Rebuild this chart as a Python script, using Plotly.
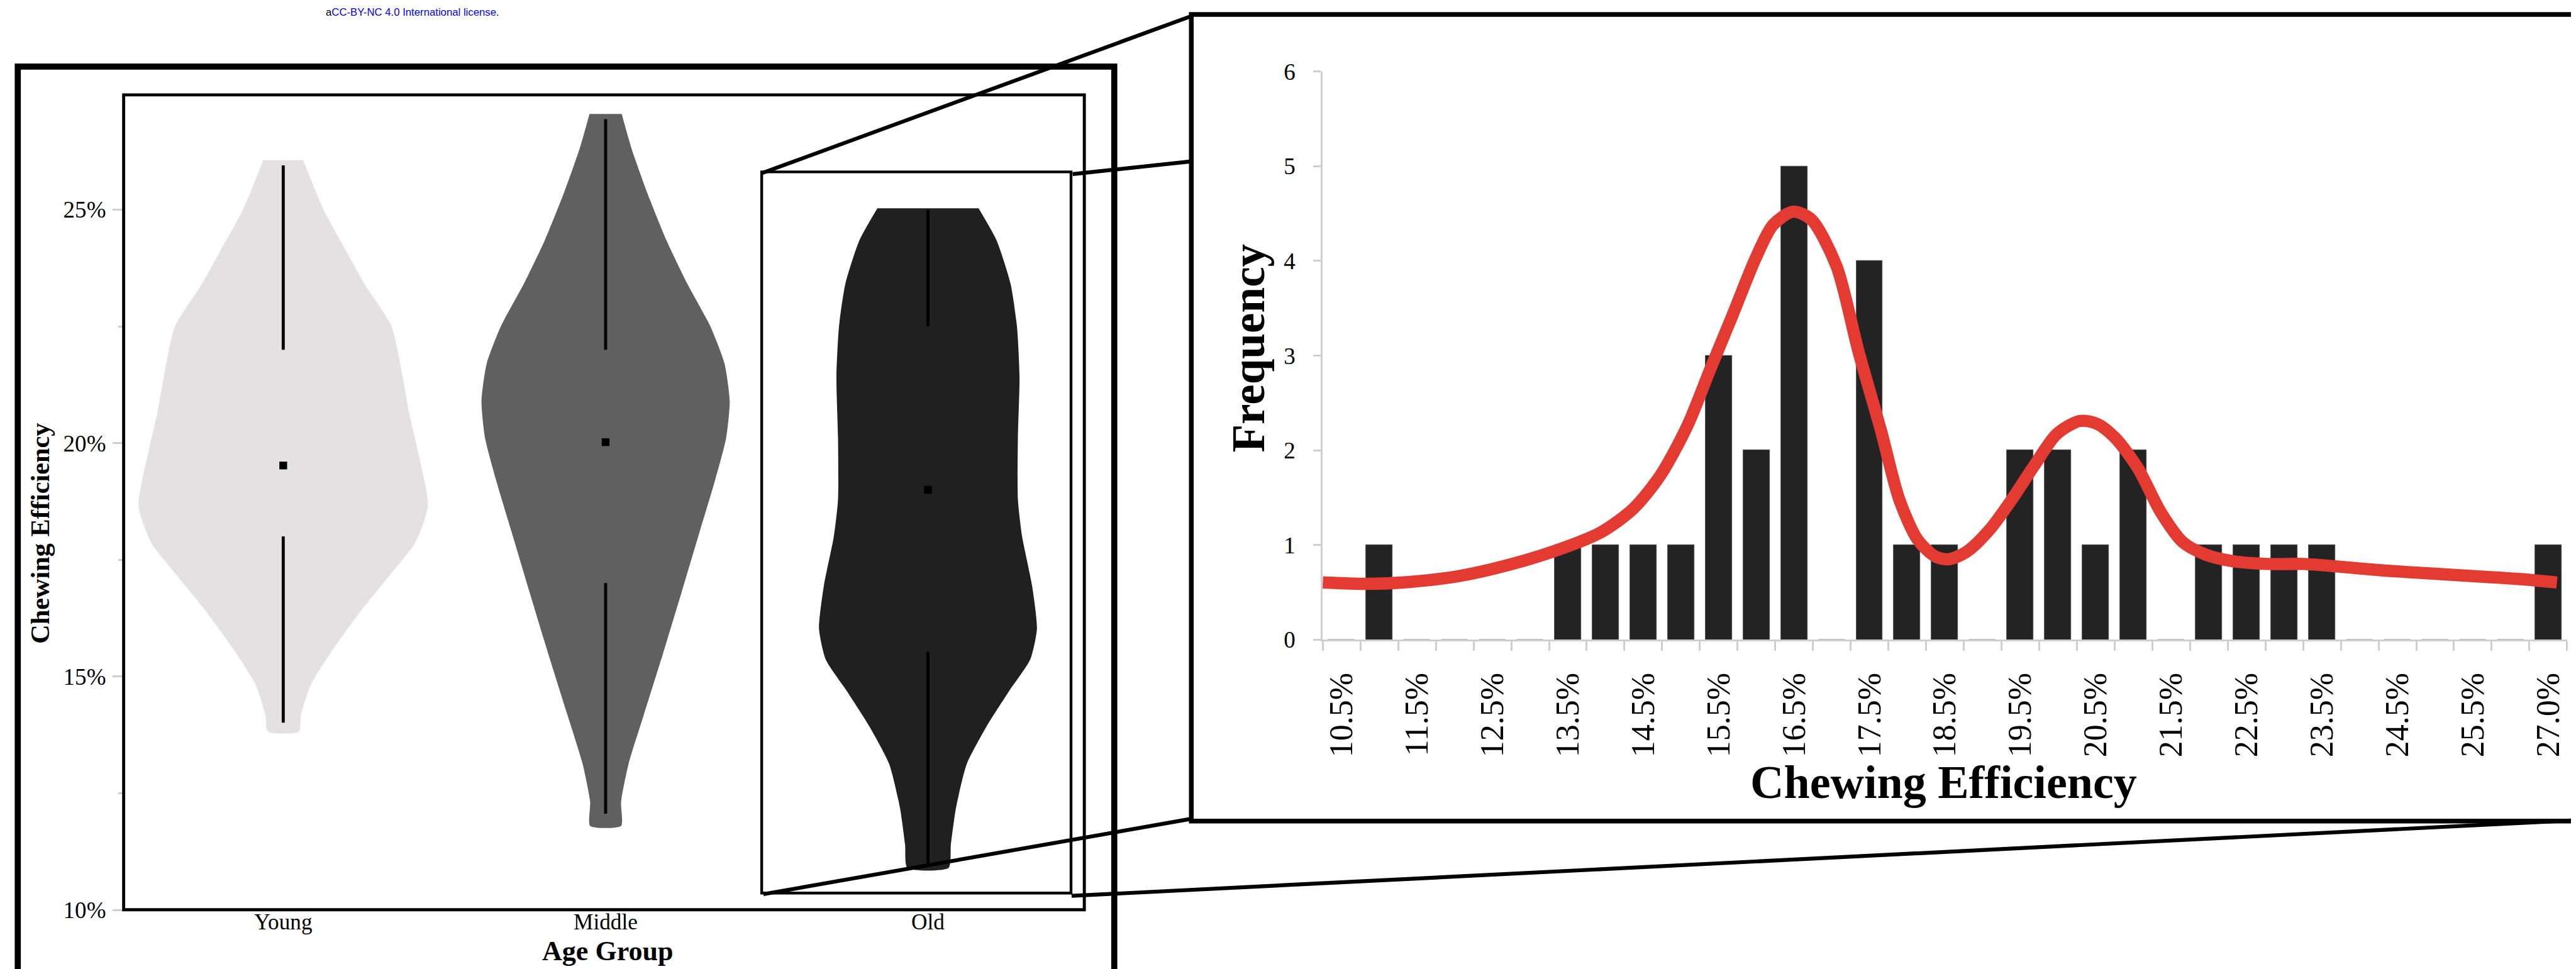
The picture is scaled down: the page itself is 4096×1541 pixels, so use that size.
import plotly.graph_objects as go

# ---------------- reference frame helpers (reference is 4647 x 1748) ----------------
REF_W, REF_H = 4647, 1748
OUT_W, OUT_H = 4096, 1541
S = OUT_W / REF_W


def fx(x):
    return x / REF_W


def fy(y):
    return 1 - y / REF_H


def fs(v):
    return v * S


SERIF = "Liberation Serif"

# ---------------- data: violin panel ----------------
GROUPS = ["Young", "Middle", "Old"]
GROUP_POS = [0, 1, 2]
GROUP_FILL = ["#E3E1E1", "#606060", "#202020"]

# violin outline: chewing efficiency (%) and half width (category units)
YOUNG_Y = [26.06, 25.0, 24.08, 23.4, 22.5, 21.4, 20.6, 19.85, 18.66, 17.87, 17.2, 16.4, 15.6, 14.83, 14.17, 13.82]
YOUNG_HW = [0.062, 0.125, 0.198, 0.253, 0.336, 0.371, 0.392, 0.417, 0.449, 0.41, 0.334, 0.24, 0.156, 0.086, 0.055, 0.048]

MIDDLE_Y = [27.05, 26.32, 25.4, 24.34, 23.42, 22.5, 21.7, 20.9, 20.11, 19.19, 18.13, 16.81, 15.49, 14.17, 13.12, 12.32, 11.8]
MIDDLE_HW = [0.05, 0.08, 0.127, 0.189, 0.253, 0.325, 0.369, 0.385, 0.374, 0.339, 0.293, 0.236, 0.178, 0.118, 0.071, 0.048, 0.048]

OLD_Y = [25.03, 24.34, 23.42, 22.5, 21.43, 20.11, 18.79, 18.0, 16.94, 16.02, 15.36, 14.7, 13.91, 13.12, 12.19, 11.4, 10.9]
OLD_HW = [0.157, 0.213, 0.256, 0.276, 0.284, 0.279, 0.279, 0.292, 0.323, 0.338, 0.317, 0.253, 0.18, 0.12, 0.087, 0.071, 0.064]

# whisker segments (%), median (%)
UPPER_WHISKER = [[22.0, 25.95], [22.0, 26.94], [22.5, 25.0]]
LOWER_WHISKER = [[14.01, 18.0], [12.06, 17.0], [11.0, 15.53]]
MEDIANS = [19.52, 20.02, 19.0]

Y_TICKS = [0.10, 0.15, 0.20, 0.25]
Y_MINOR = [0.125, 0.175, 0.225]

# ---------------- data: histogram panel ----------------
BIN_LABELS = ["10.5%", "11.0%", "11.5%", "12.0%", "12.5%", "13.0%", "13.5%", "14.0%", "14.5%", "15.0%",
              "15.5%", "16.0%", "16.5%", "17.0%", "17.5%", "18.0%", "18.5%", "19.0%", "19.5%", "20.0%",
              "20.5%", "21.0%", "21.5%", "22.0%", "22.5%", "23.0%", "23.5%", "24.0%", "24.5%", "25.0%",
              "25.5%", "26.0%", "27.0%"]
COUNTS = [0, 1, 0, 0, 0, 0, 1, 1, 1, 1,
          3, 2, 5, 0, 4, 1, 1, 0, 2, 2,
          1, 2, 0, 1, 1, 1, 1, 0, 0, 0,
          0, 0, 1]

# density curve (x in bin-index units, y in frequency units)
CURVE_X = [-0.5, 0.69, 1.65, 3.08, 4.52, 5.95, 6.9, 7.74, 8.46, 9.17, 9.77, 10.37, 10.97, 11.44, 11.97,
           12.45, 13.12, 13.71, 14.31, 14.79, 15.27, 15.74, 16.1, 16.58, 17.18, 17.77, 18.37, 18.96, 19.57,
           20.04, 20.52, 21.12, 21.72, 22.31, 22.91, 23.63, 24.58, 25.54, 26.5, 27.69, 28.88, 30.08, 31.27, 32.23]
CURVE_Y = [0.605, 0.59, 0.605, 0.67, 0.80, 0.98, 1.14, 1.385, 1.74, 2.26, 2.85, 3.43, 4.02, 4.38, 4.52,
           4.44, 3.95, 3.04, 2.20, 1.48, 1.06, 0.88, 0.85, 0.93, 1.16, 1.48, 1.84, 2.17, 2.31,
           2.28, 2.13, 1.81, 1.35, 1.03, 0.90, 0.83, 0.80, 0.80, 0.77, 0.73, 0.70, 0.67, 0.64, 0.605]

fig = go.Figure()

# ---------------- violins ----------------
outlines = [(YOUNG_Y, YOUNG_HW), (MIDDLE_Y, MIDDLE_HW), (OLD_Y, OLD_HW)]
for pos, fill, (ys, hws) in zip(GROUP_POS, GROUP_FILL, outlines):
    px = [pos + w for w in hws] + [pos - w for w in reversed(hws)]
    py = [v / 100 for v in ys] + [v / 100 for v in reversed(ys)]
    fig.add_trace(go.Scatter(
        x=px, y=py, mode="lines", fill="toself", fillcolor=fill,
        line=dict(width=0, color=fill, shape="spline", smoothing=0.6),
        xaxis="x", yaxis="y", hoverinfo="skip", showlegend=False))

for pos, up, lo, med in zip(GROUP_POS, UPPER_WHISKER, LOWER_WHISKER, MEDIANS):
    for seg_ in (up, lo):
        fig.add_trace(go.Scatter(
            x=[pos, pos], y=[seg_[0] / 100, seg_[1] / 100], mode="lines",
            line=dict(color="black", width=fs(5.5)), xaxis="x", yaxis="y",
            hoverinfo="skip", showlegend=False))
    fig.add_trace(go.Scatter(
        x=[pos], y=[med / 100], mode="markers",
        marker=dict(symbol="square", size=fs(14), color="black"),
        xaxis="x", yaxis="y", hoverinfo="skip", showlegend=False))

# ---------------- histogram ----------------
BIN_POS = list(range(len(BIN_LABELS)))
fig.add_trace(go.Bar(
    x=BIN_POS, y=COUNTS, width=0.7,
    marker=dict(color="#232323", line=dict(color="#4a4a4a", width=1)),
    xaxis="x2", yaxis="y2", hoverinfo="skip", showlegend=False))
fig.add_trace(go.Scatter(
    x=CURVE_X, y=CURVE_Y, mode="lines",
    line=dict(color="#E33B32", width=fs(22), shape="spline", smoothing=0.8),
    xaxis="x2", yaxis="y2", hoverinfo="skip", showlegend=False))

GREY = "#cfcfcf"
label_idx = BIN_POS[::2]

fig.update_layout(
    width=OUT_W, height=OUT_H,
    margin=dict(l=0, r=0, t=0, b=0),
    paper_bgcolor="white", plot_bgcolor="rgba(0,0,0,0)",
    showlegend=False,
    bargap=0,
    xaxis=dict(
        domain=[fx(214), fx(1947)], range=[-0.495, 2.485], anchor="free",
        position=fy(1634) + 7 / OUT_H,
        tickmode="array", tickvals=GROUP_POS, ticktext=GROUPS, ticks="",
        showline=False, showgrid=False, zeroline=False, automargin=False,
        ticklabelstandoff=0,
        tickfont=dict(family=SERIF, size=fs(40), color="black")),
    yaxis=dict(
        domain=[fy(1634), fy(162)], range=[0.0998, 0.2746], anchor="x",
        tickmode="array", tickvals=Y_TICKS, tickformat=".0%",
        ticks="outside", ticklen=fs(19), tickwidth=2.5, tickcolor=GREY,
        minor=dict(tickmode="array", tickvals=Y_MINOR, ticks="outside", ticklen=fs(9),
                   tickwidth=2.5, tickcolor=GREY, showgrid=False),
        showline=False, showgrid=False, zeroline=False, automargin=False,
        ticklabelstandoff=int(fs(4)),
        tickfont=dict(family=SERIF, size=fs(42), color="black")),
    xaxis2=dict(
        domain=[fx(2377), fx(4622)], range=[-0.502, 32.502], anchor="y2",
        tickmode="array", tickvals=label_idx, ticktext=[BIN_LABELS[i] for i in label_idx],
        tickangle=-90, ticks="outside", ticklen=fs(17), tickcolor="rgba(0,0,0,0)",
        minor=dict(tickmode="array", tickvals=[i - 0.5 for i in BIN_POS] + [BIN_POS[-1] + 0.5],
                   ticks="outside", ticklen=fs(17), tickwidth=2.5, tickcolor=GREY, showgrid=False),
        showline=True, linecolor=GREY, linewidth=2.5,
        showgrid=False, zeroline=False, automargin=False,
        ticklabelstandoff=14,
        tickfont=dict(family=SERIF, size=fs(59), color="black")),
    yaxis2=dict(
        domain=[fy(1145), fy(120)], range=[0, 6], anchor="x2",
        tickmode="linear", tick0=0, dtick=1,
        ticks="outside", ticklen=fs(14), tickwidth=2.5, tickcolor=GREY,
        showline=True, linecolor=GREY, linewidth=2.5,
        showgrid=False, zeroline=False, automargin=False,
        ticklabelstandoff=int(fs(24)),
        tickfont=dict(family=SERIF, size=fs(42), color="black")),
)

# ---------------- frames and zoom connectors ----------------
def rect(x0, y0, x1, y1, w):
    return dict(type="rect", xref="paper", yref="paper",
                x0=fx(x0), x1=fx(x1), y0=fy(y0), y1=fy(y1),
                line=dict(color="black", width=w), fillcolor="rgba(0,0,0,0)", layer="above")


def seg(x0, y0, x1, y1, w):
    return dict(type="line", xref="paper", yref="paper",
                x0=fx(x0), x1=fx(x1), y0=fy(y0), y1=fy(y1),
                line=dict(color="black", width=w), layer="above")


shapes = [
    rect(23, 111, 2001, 1745, fs(11)),       # outer frame of left panel
    rect(214, 162, 1947, 1632, fs(5.5)),     # violin plot panel
    rect(1365, 301, 1923, 1602, fs(5)),      # highlight box around "Old"
    rect(2140, 17, 4720, 1472, fs(8.5)),     # histogram panel frame
    seg(1366, 303, 2140, 20, fs(7)),
    seg(1926, 305, 2140, 282, fs(7)),
    seg(1368, 1604, 2140, 1468, fs(7)),
    seg(1924, 1607, 4647, 1470, fs(7)),
]
fig.update_layout(shapes=shapes)

# ---------------- titles / text ----------------
ann = [
    dict(text="<b>Chewing Efficiency</b>", x=fx(62), y=fy(953), textangle=-90,
         font=dict(family=SERIF, size=fs(48), color="black")),
    dict(text="<b>Age Group</b>", x=fx(1088), y=fy(1707),
         font=dict(family=SERIF, size=fs(50), color="black")),
    dict(text="<b>Frequency</b>", x=fx(2244), y=fy(619), textangle=-90,
         font=dict(family=SERIF, size=fs(83), color="black")),
    dict(text="<b>Chewing Efficiency</b>", x=fx(3497), y=fy(1402),
         font=dict(family=SERIF, size=fs(84), color="black")),
    dict(text='a<span style="color:#0000FF">CC-BY-NC 4.0 International license</span>.',
         x=fx(576), y=1.0, xanchor="left", yanchor="top",
         font=dict(family="Liberation Sans", size=fs(19), color="black")),
]
for a in ann:
    a.setdefault("xanchor", "center")
    a.setdefault("yanchor", "middle")
    a.update(xref="paper", yref="paper", showarrow=False)
fig.update_layout(annotations=ann)

fig.write_html("out.html")
